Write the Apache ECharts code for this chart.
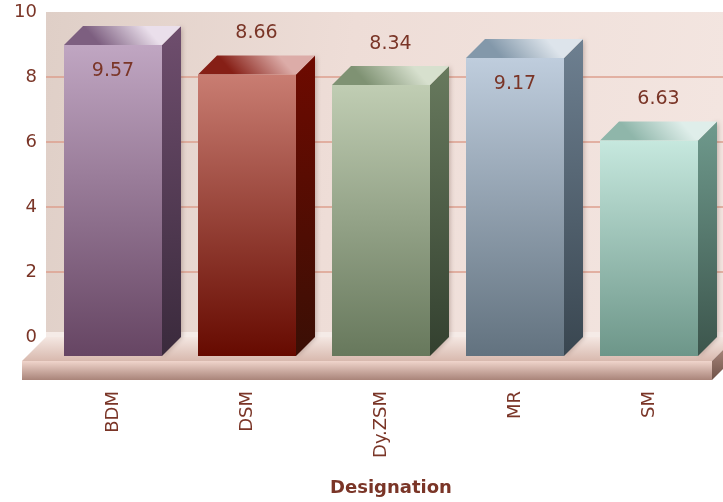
<!DOCTYPE html>
<html><head><meta charset="utf-8">
<style>html,body{margin:0;padding:0;background:#fff}#c{width:723px;height:502px}</style>
<script src="https://cdn.jsdelivr.net/npm/echarts@6/dist/echarts.min.js"></script>
</head><body><div id="c"></div>
<script>
const categories = ['BDM','DSM','Dy.ZSM','MR','SM'];
const values = [9.57,8.66,8.34,9.17,6.63];
const labelsInside = [true,false,false,true,false];
const frontColors = [['#c0a6c2','#664563'],['#c97d72','#660a00'],['#c0cdb3','#67785c'],['#bfcddd','#62727f'],['#c6e8de','#6d9689']];
const sideColors = [['#6f4e6e','#3a2a3c'],['#6e0a00','#3a0f05'],['#687a5e','#33402f'],['#6e8091','#394650'],['#6f9a8d','#3c554c']];
const topColors = [['#7d5f80','#eadfeb'],['#861f16','#dcaca8'],['#7f9273','#d7e0ce'],['#8398aa','#dde4eb'],['#8fb6aa','#dfeeea']];
const txt = '#7a3527';
const F = 'DejaVu Sans, Verdana, sans-serif';
const lg = (a,b,x1,y1,x2,y2)=>new echarts.graphic.LinearGradient(x1,y1,x2,y2,[{offset:0,color:a},{offset:1,color:b}]);
const D = 19;
function renderBar(params, api){
  const i = api.value(0), v = api.value(1);
  const top = api.coord([i,v]), base = api.coord([i,0]);
  const w = api.size([1,0])[0]*0.7313;
  const l = top[0]-w/2, r = top[0]+w/2;
  const ft = top[1]+D, fb = base[1]+D;
  const inside = labelsInside[i];
  return {type:'group',children:[
    {type:'polygon',shape:{points:[[r,ft],[r+D,top[1]],[r+D,base[1]],[r,fb]]},
     style:{fill:lg(sideColors[i][0],sideColors[i][1],0,0,0,1),shadowBlur:5,shadowColor:'rgba(90,60,50,0.35)',shadowOffsetX:1}},
    {type:'polygon',shape:{points:[[l,ft],[l+D,top[1]],[r+D,top[1]],[r,ft]]},
     style:{fill:lg(topColors[i][0],topColors[i][1],0.35,1.3,0.65,-0.3)}},
    {type:'rect',shape:{x:l,y:ft,width:w,height:fb-ft},
     style:{fill:lg(frontColors[i][0],frontColors[i][1],0,0,0,1)}},
    {type:'text',x:inside?top[0]:top[0]+D/2,y:inside?ft+26:top[1]-22,
     style:{text:v.toFixed(2),fill:txt,font:'19px '+F,align:'center',verticalAlign:'middle'}}
  ]};
}
const chart = echarts.init(document.getElementById('c'),null,{renderer:'canvas'});
chart.setOption({
  animation:false,
  grid:[
    {left:46,top:12,width:677,height:325,show:true,borderWidth:0,outerBoundsMode:'none',containLabel:false,
     backgroundColor:new echarts.graphic.LinearGradient(0,0,1,0.3,[{offset:0,color:'#dfcfc7'},{offset:0.45,color:'#eeddd7'},{offset:1,color:'#f3e5e0'}])},
    {left:46,top:12,width:670,height:325,show:false,outerBoundsMode:'none',containLabel:false}
  ],
  xAxis:[
    {gridIndex:0,type:'category',data:categories,show:false},
    {gridIndex:1,type:'category',data:categories,axisLine:{show:false},axisTick:{show:false},
     axisLabel:{rotate:90,margin:54,color:txt,fontFamily:F,fontSize:18,interval:0},
     name:'Designation',nameLocation:'middle',nameGap:142,
     nameTextStyle:{color:txt,fontFamily:F,fontSize:18,fontWeight:'bold',padding:[0,0,0,20]}}
  ],
  yAxis:[
    {gridIndex:0,type:'value',min:0,max:10,interval:2,axisLine:{show:false},axisTick:{show:false},
     axisLabel:{margin:9,color:txt,fontFamily:F,fontSize:18,padding:[6,0,0,0]},
     splitLine:{show:true,lineStyle:{width:1.5,color:['transparent','#dd9f8e','#dd9f8e','#dd9f8e','#dd9f8e','transparent']}}},
    {gridIndex:1,type:'value',min:0,max:10,interval:2,show:false}
  ],
  graphic:[
    {type:'rect',shape:{x:46,y:332,width:677,height:6},style:{fill:'#f5ebe7'},z:1},
    {type:'polygon',shape:{points:[[22,361],[46,337],[723,337],[723,350],[712,361]]},
     style:{fill:lg('#f4e7e2','#d8b9ae',0,0,0,1)},z:1},
    {type:'rect',shape:{x:22,y:361,width:690,height:19},
     style:{fill:lg('#f0d5cc','#a98479',0,0,0,1)},z:1},
    {type:'polygon',shape:{points:[[712,361],[723,350],[723,369],[712,380]]},
     style:{fill:lg('#a58378','#6f5248',0,0,0,1)},z:1}
  ],
  series:[{type:'custom',xAxisIndex:1,yAxisIndex:1,renderItem:renderBar,clip:false,z:3,
    encode:{x:0,y:1},data:values.map((v,i)=>[i,v])}]
});
</script></body></html>
